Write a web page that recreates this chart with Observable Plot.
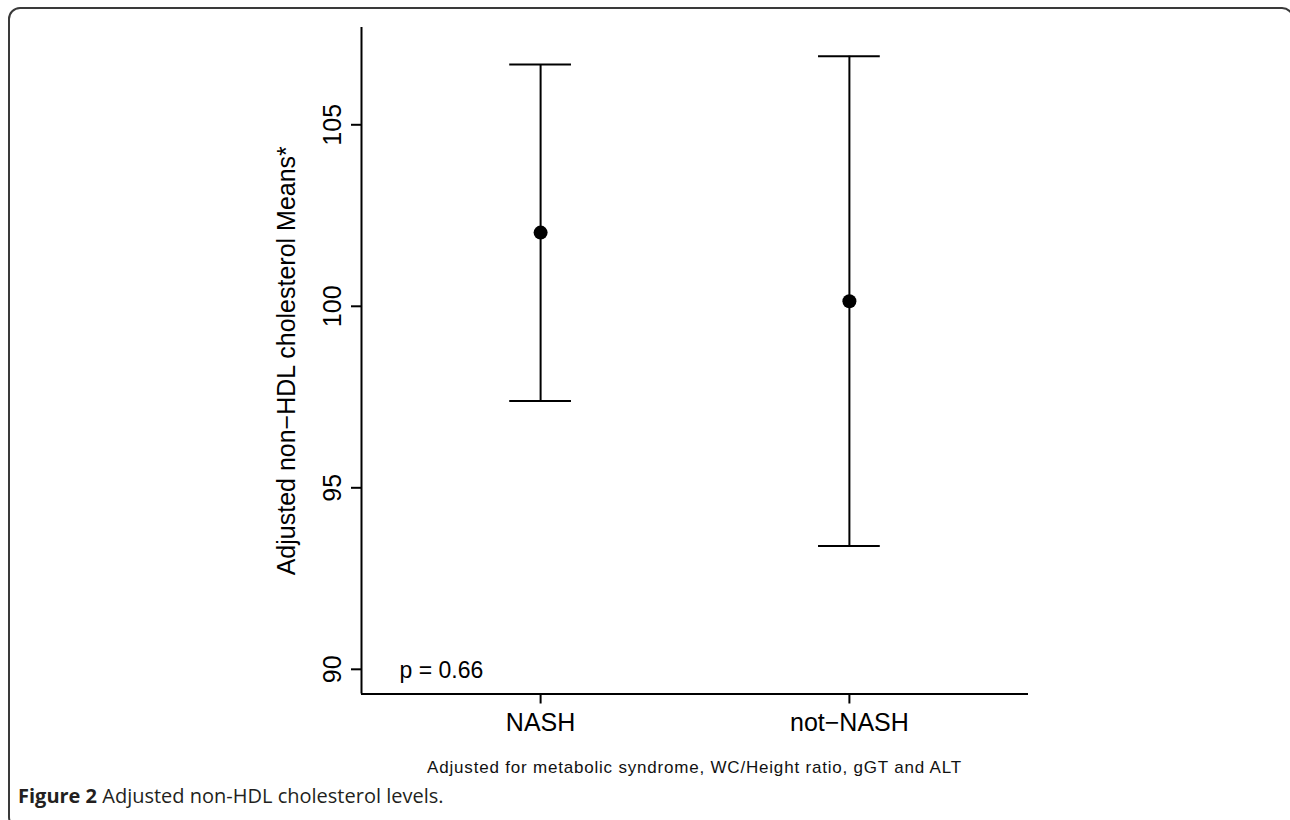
<!DOCTYPE html>
<html>
<head>
<meta charset="utf-8">
<script src="https://cdn.jsdelivr.net/npm/d3@7"></script>
<script src="https://cdn.jsdelivr.net/npm/@observablehq/plot@0.6"></script>
<style>
  html, body { margin: 0; padding: 0; background: #fff; overflow: hidden; }
  #wrap { position: relative; width: 1290px; height: 820px; overflow: hidden; }
  #box { position: absolute; left: 8px; top: 7px; width: 1286px; height: 822px; box-sizing: border-box;
         border: 2px solid #3a3a3a; border-radius: 12px; }
  #chart { position: absolute; left: 0; top: 0; }
  #note { position: absolute; left: 261px; width: 867px; top: 758px; text-align: center;
          font-family: "Liberation Sans", Arial, sans-serif; font-size: 17px; letter-spacing: 0.8px; color: #111; }
  #fig { position: absolute; left: 18px; top: 782px; font-family: "Open Sans", sans-serif;
         font-size: 20px; color: #231f20; }
  #fig b { font-weight: 700; }
</style>
</head>
<body>
<div id="wrap">
  <div id="box"></div>
  <div id="chart"></div>
  <div id="note"></div>
  <div id="fig"><b>Figure 2</b> Adjusted non-HDL cholesterol levels.</div>
</div>
<script>
// ---- data ----
const groups = ["NASH", "not\u2212NASH"];
const means = [102.03, 100.14];
const lower = [97.39, 93.40];
const upper = [106.66, 106.89];
const yTicks = [90, 95, 100, 105];
const xDomain = [0.42, 2.58];
const yDomain = [89.32, 107.68];
const yLabel = "Adjusted non\u2212HDL cholesterol Means*";
const pText = "p = 0.66";
const noteText = "Adjusted for metabolic syndrome, WC/Height ratio, gGT and ALT";

const rows = groups.map((g, i) => ({pos: i + 1, group: g, mean: means[i], lo: lower[i], hi: upper[i]}));
const capHalf = 0.1;

const font = "Liberation Sans, Arial, Helvetica, sans-serif";

const chart = Plot.plot({
  width: 1290,
  height: 745,
  marginLeft: 361,
  marginRight: 262,
  marginTop: 27,
  marginBottom: 51.5,
  style: {fontFamily: font, fontSize: "25px", color: "#000", background: "transparent"},
  x: {domain: xDomain, axis: null},
  y: {domain: yDomain, axis: null},
  marks: [
    // L-shaped frame
    Plot.ruleX([xDomain[0]], {stroke: "#000", strokeWidth: 2}),
    Plot.ruleY([yDomain[0]], {stroke: "#000", strokeWidth: 2}),
    // axes
    Plot.axisY({ticks: yTicks, tickSize: 10, tickPadding: 11, tickRotate: -90, fontSize: 25,
                strokeWidth: 2, label: null}),
    Plot.axisX({ticks: rows.map(d => d.pos), tickFormat: v => groups[v - 1], tickSize: 10,
                tickPadding: 9.5, fontSize: 25, strokeWidth: 2, label: null}),
    // y label
    Plot.text([yLabel], {frameAnchor: "left", rotate: -90, dx: -75, textAnchor: "middle", fontSize: 25, text: d => d}),
    // error bars
    Plot.ruleX(rows, {x: "pos", y1: "lo", y2: "hi", stroke: "#000", strokeWidth: 2}),
    Plot.ruleY(rows, {y: "hi", x1: d => d.pos - capHalf, x2: d => d.pos + capHalf, stroke: "#000", strokeWidth: 2}),
    Plot.ruleY(rows, {y: "lo", x1: d => d.pos - capHalf, x2: d => d.pos + capHalf, stroke: "#000", strokeWidth: 2}),
    Plot.dot(rows, {x: "pos", y: "mean", r: 7, fill: "#000", stroke: "none"}),
    // p-value
    Plot.text([pText], {frameAnchor: "bottom-left", dx: 38, dy: -16, textAnchor: "start", fontSize: 23, text: d => d})
  ]
});
document.getElementById("chart").appendChild(chart);
document.getElementById("note").textContent = noteText;
</script>
</body>
</html>
